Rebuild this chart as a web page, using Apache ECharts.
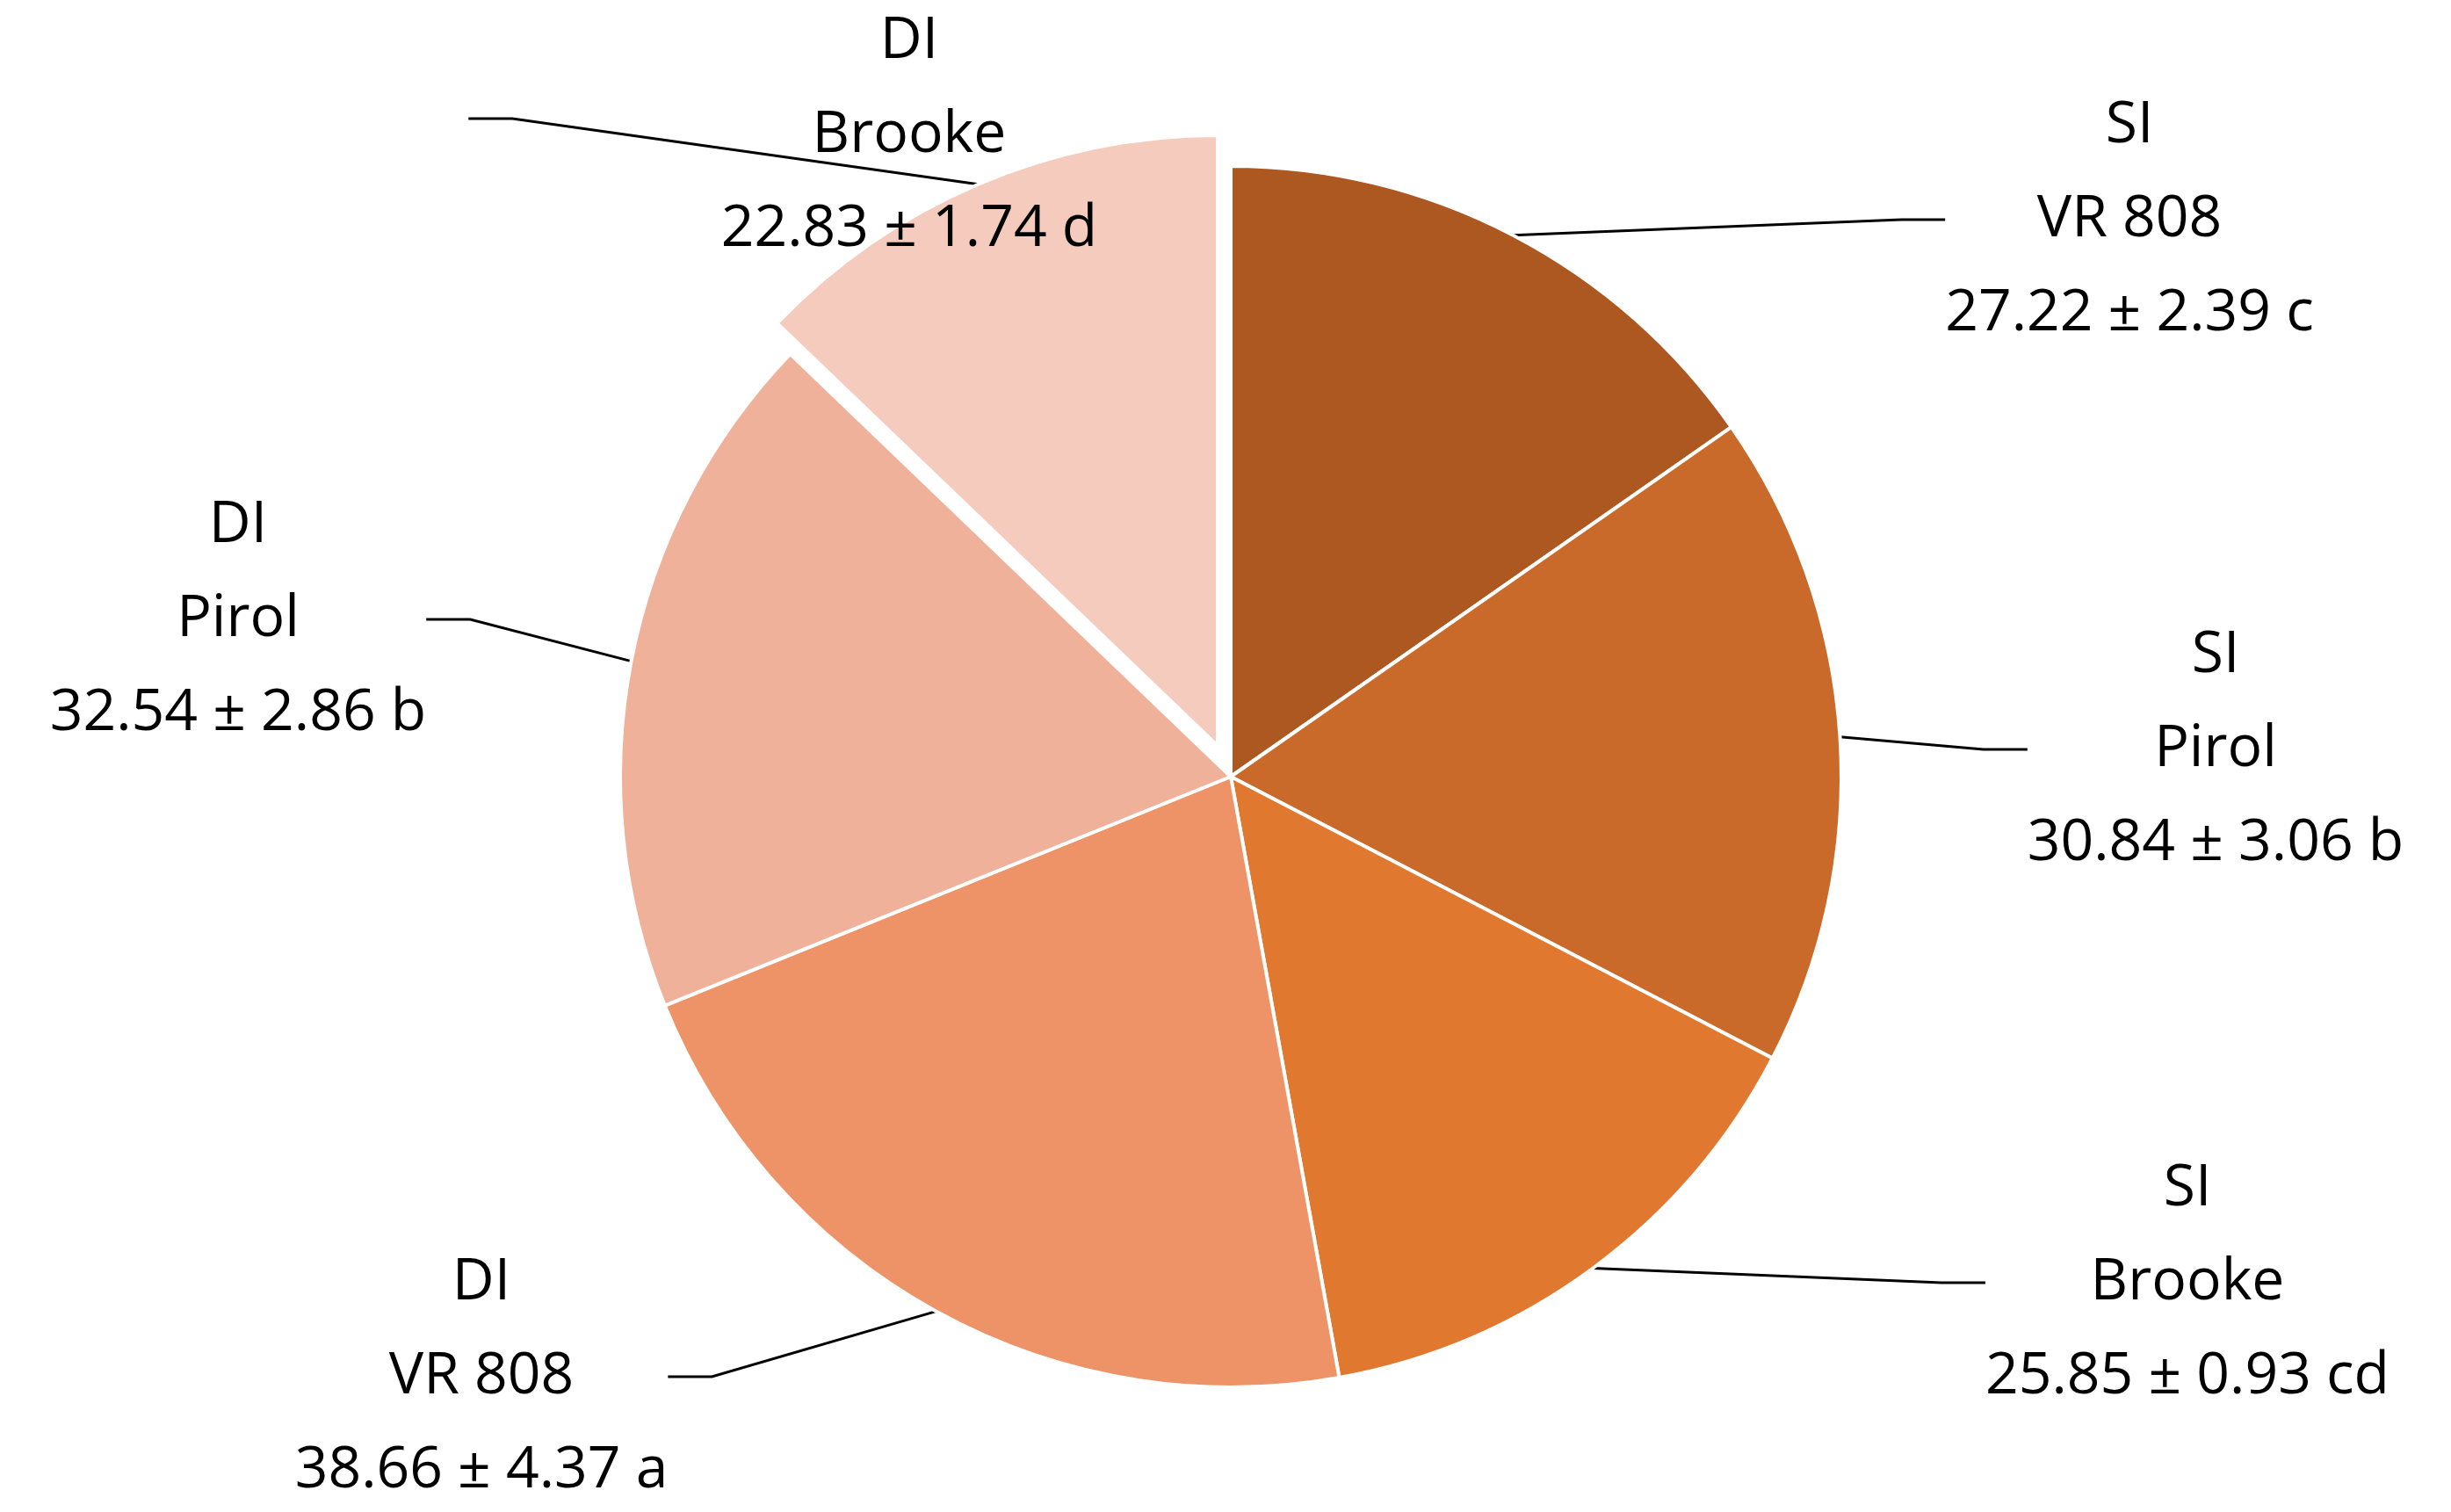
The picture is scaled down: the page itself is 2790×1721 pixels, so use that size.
<!DOCTYPE html>
<html>
<head>
<meta charset="UTF-8">
<script src="https://cdn.jsdelivr.net/npm/echarts@6/dist/echarts.min.js"></script>
<style>html,body{margin:0;background:#fff}#c{width:2790px;height:1721px}</style>
</head>
<body>
<div id="c"></div>
<script>
    const names = ['SI\nVR 808', 'SI\nPirol', 'SI\nBrooke', 'DI\nVR 808', 'DI\nPirol', 'DI\nBrooke'];
    const means = [27.22, 30.84, 25.85, 38.66, 32.54, 22.83];
    const sds = [2.39, 3.06, 0.93, 4.37, 2.86, 1.74];
    const letters = ['c', 'b', 'cd', 'a', 'b', 'd'];
    const colors = ['#AD5721', '#C96A2A', '#E07830', '#EE9267', '#F0B19B', '#F5CBBE'];
    // label block centres (px)
    const labelPos = [[2424, 250], [2522, 853], [2490, 1460], [548, 1567], [271, 705], [334, 170]];

    let chart = echarts.init(document.getElementById('c'));
    chart.setOption({
        animation: false,
        series: [{
            type: 'pie',
            center: [1401, 884],
            radius: 695,
            startAngle: 90,
            clockwise: true,
            selectedMode: 'single',
            selectedOffset: 38,
            itemStyle: { borderColor: '#fff', borderWidth: 4 },
            label: {
                formatter: p => p.name + '\n' + means[p.dataIndex].toFixed(2) + ' ± ' + sds[p.dataIndex].toFixed(2) + ' ' + letters[p.dataIndex],
                fontFamily: 'Open Sans',
                fontSize: 66,
                lineHeight: 107,
                color: '#000',
                align: 'center'
            },
            labelLine: { show: true, length: 60, length2: 50, lineStyle: { color: '#000', width: 3 } },
            labelLayout: p => ({ x: labelPos[p.dataIndex][0], y: labelPos[p.dataIndex][1], align: 'center', verticalAlign: 'middle' }),
            data: names.map((n, i) => ({
                name: n, value: means[i], selected: i === 5,
                itemStyle: { color: colors[i] }
            }))
        }]
    });
</script>
</body>
</html>
